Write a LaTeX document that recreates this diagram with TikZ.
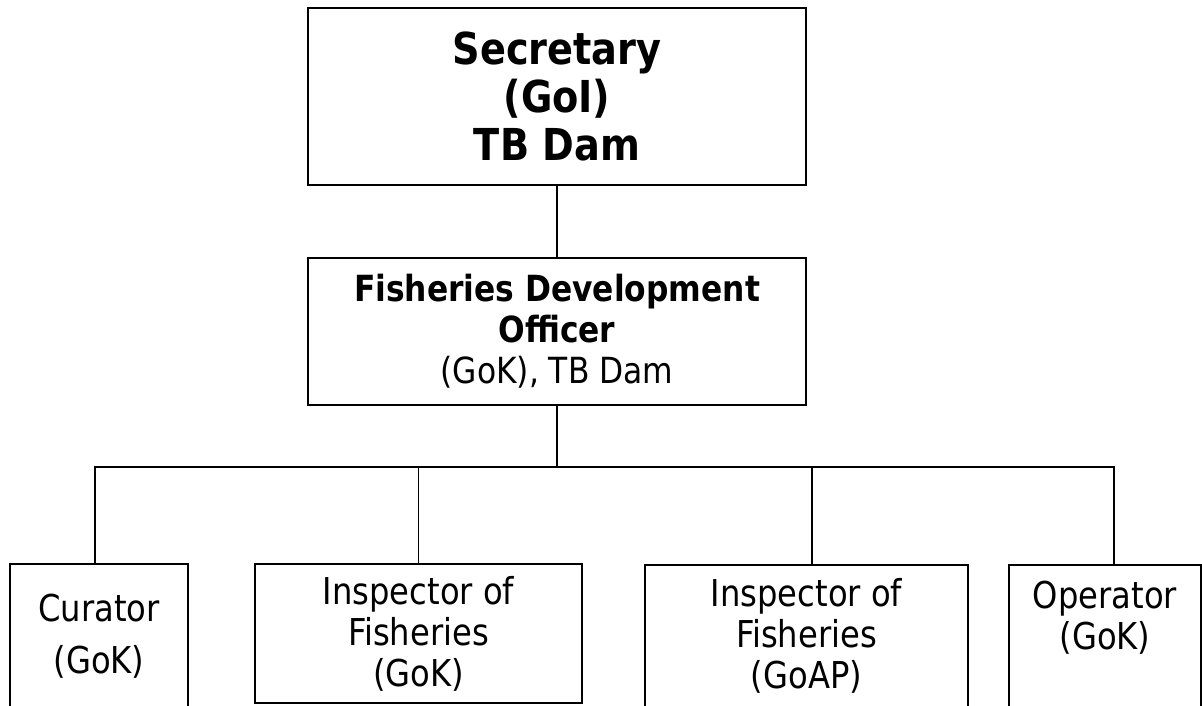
\documentclass[tikz,border=0pt]{standalone}
\usepackage{fontspec}
\setmainfont{DejaVu Sans}[FakeStretch=0.87]
\begin{document}
\begin{tikzpicture}[x=1pt, y=-1pt, line width=1.2pt,
  post/.style={draw, align=center, inner sep=0pt},
  headfont/.style={font=\fontsize{44}{48}\selectfont\bfseries},
  midfont/.style={font=\fontsize{36}{41}\selectfont},
  staff/.style={post, font=\fontsize{37}{41}\selectfont}]
\useasboundingbox (0,0) rectangle (1202,705);

% Top posts
\node[post, headfont, minimum width=498pt, minimum height=177pt] (sec) at (557,96.5) {Secretary\\(GoI)\\TB Dam};
\node[post, midfont, minimum width=498pt, minimum height=147pt] (fdo) at (557,331.5) {\textbf{Fisheries Development}\\\textbf{Officer}\\(GoK), TB Dam};

% Field staff
\node[staff, font=\fontsize{37}{52}\selectfont, minimum width=178pt, minimum height=144pt] (cur) at (99,636) {Curator\\(GoK)};
\node[staff, minimum width=327pt, minimum height=139pt] (insk) at (418.5,633.5) {Inspector of\\Fisheries\\(GoK)};
\node[staff, minimum width=323pt, minimum height=142pt] (insap) at (806.5,636) {Inspector of\\Fisheries\\(GoAP)};
\node[staff, minimum width=192pt, minimum height=142pt] (op) at (1105,636) {Operator\\(GoK)\\ };

% Links
\coordinate (bus) at (557,467);
\draw (sec) -- (fdo);
\draw (fdo) -- (bus);
\draw ([xshift=-4pt]cur.north) -- ([xshift=-4pt]cur.north |- bus) -- ([xshift=9pt]op.north |- bus) -- ([xshift=9pt]op.north);
\draw (insk.north) -- (insk.north |- bus);
\draw ([xshift=5.5pt]insap.north) -- ([xshift=5.5pt]insap.north |- bus);
\end{tikzpicture}
\end{document}
